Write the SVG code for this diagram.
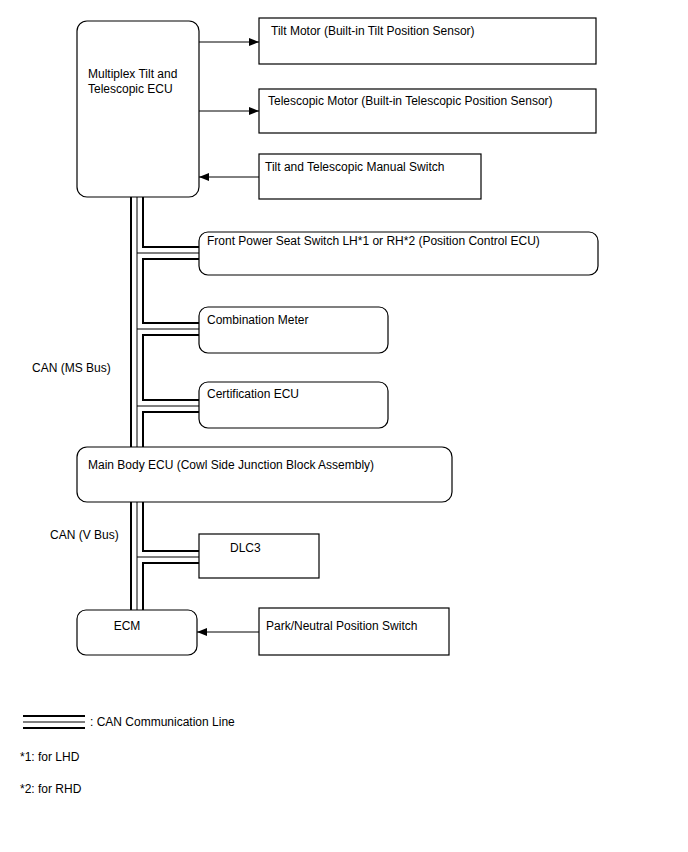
<svg xmlns="http://www.w3.org/2000/svg" width="688" height="852" viewBox="0 0 688 852">
<defs>
<style>
text{font-family:"Liberation Sans",Arial,sans-serif;font-size:12px;fill:#000}
.box{fill:#fff;stroke:#000;stroke-width:1.2}
.arr{stroke:#000;stroke-width:1;fill:none;marker-end:url(#ah)}
.canO{stroke:#000;stroke-width:14;fill:none;stroke-linecap:butt;stroke-linejoin:miter}
.canI{stroke:#fff;stroke-width:10;fill:none;stroke-linecap:butt;stroke-linejoin:miter}
.canC{stroke:#000;stroke-width:1;fill:none}
</style>
<marker id="ah" markerWidth="10" markerHeight="8" refX="10" refY="4" orient="auto" markerUnits="userSpaceOnUse">
<path d="M0,0 L10,4 L0,8 Z" fill="#000"/>
</marker>
</defs>
<rect width="688" height="852" fill="#fff"/>
<g id="connectors">
<path class="arr" d="M199,42 H259"/>
<path class="arr" d="M199,111 H259"/>
<path class="arr" d="M259,177 H199"/>
<path class="arr" d="M259,632 H197"/>
<path class="canO" d="M137,197 V447 M137,253 H199 M137,329 H199 M137,406 H199 M137,502 V610 M137,557 H199"/>
<path class="canI" d="M137,197 V447 M137,253 H199 M137,329 H199 M137,406 H199 M137,502 V610 M137,557 H199"/>
<path class="canC" d="M137,197 V447 M137,253 H199 M137,329 H199 M137,406 H199 M137,502 V610 M137,557 H199"/>
</g>
<g id="multiplex-ecu"><rect class="box" x="77" y="21" width="122" height="176" rx="10"/><text x="88" y="78">Multiplex Tilt and</text><text x="88" y="93">Telescopic ECU</text></g>
<g id="tilt-motor"><rect class="box" x="259" y="18" width="337" height="46"/><text x="271" y="35">Tilt Motor (Built-in Tilt Position Sensor)</text></g>
<g id="telescopic-motor"><rect class="box" x="259" y="89" width="337" height="44"/><text x="268" y="105">Telescopic Motor (Built-in Telescopic Position Sensor)</text></g>
<g id="manual-switch"><rect class="box" x="259" y="154" width="222" height="45"/><text x="265" y="171">Tilt and Telescopic Manual Switch</text></g>
<g id="front-power-seat"><rect class="box" x="199" y="232" width="399" height="43" rx="9"/><text x="207" y="245">Front Power Seat Switch LH*1 or RH*2 (Position Control ECU)</text></g>
<g id="combination-meter"><rect class="box" x="199" y="307" width="189" height="46" rx="9"/><text x="207" y="324">Combination Meter</text></g>
<g id="certification-ecu"><rect class="box" x="199" y="382" width="189" height="46" rx="9"/><text x="207" y="398">Certification ECU</text></g>
<g id="main-body-ecu"><rect class="box" x="77" y="447" width="375" height="55" rx="10"/><text x="88" y="469">Main Body ECU (Cowl Side Junction Block Assembly)</text></g>
<g id="dlc3"><rect class="box" x="199" y="534" width="120" height="44"/><text x="230" y="552">DLC3</text></g>
<g id="ecm"><rect class="box" x="77" y="610" width="120" height="45" rx="9"/><text x="127" y="630" text-anchor="middle">ECM</text></g>
<g id="park-neutral"><rect class="box" x="259" y="608" width="190" height="47"/><text x="266" y="630">Park/Neutral Position Switch</text></g>
<text x="32" y="372">CAN (MS Bus)</text>
<text x="50" y="539">CAN (V Bus)</text>
<g id="legend">
<path class="canO" d="M23,722 H85"/>
<path class="canI" d="M23,722 H85"/>
<path class="canC" d="M23,722 H85"/>
<text x="90" y="726">: CAN Communication Line</text>
<text x="20" y="761">*1: for LHD</text>
<text x="20" y="793">*2: for RHD</text>
</g>
</svg>
